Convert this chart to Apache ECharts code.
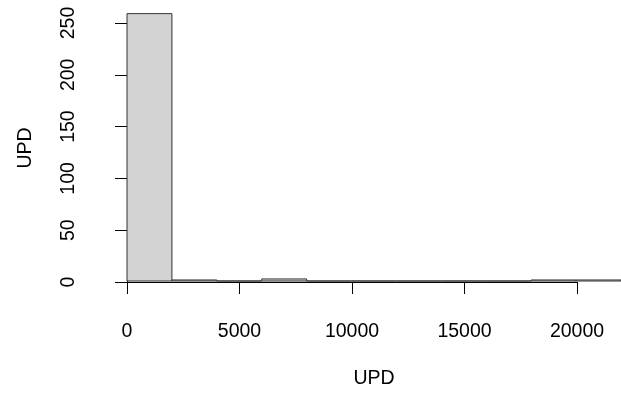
<!DOCTYPE html>
<html>
<head>
<meta charset="utf-8">
<script src="https://cdn.jsdelivr.net/npm/echarts@6/dist/echarts.min.js"></script>
<style>
  html, body { margin: 0; padding: 0; background: #fff; }
  #chart { width: 621px; height: 394px; }
</style>
</head>
<body>
<div id="chart"></div>
<script>
// Histogram of UPD: bin edges (width 2000) and counts per bin
const binStarts = [0, 2000, 4000, 6000, 8000, 10000, 12000, 14000, 16000, 18000, 20000];
const binWidth = 2000;
const counts = [259, 1, 0, 2, 0, 0, 0, 0, 0, 1, 1];
const xTicks = [0, 5000, 10000, 15000, 20000];
const yTicks = [0, 50, 100, 150, 200, 250];

const FONT = 'Liberation Sans, Arial, sans-serif';
const FS = 19.5;
const pxPerCount = 259 / 250;
const yZero = 282;
const yTopMax = 270;

const chart = echarts.init(document.getElementById('chart'), null, { renderer: 'canvas' });

const histData = binStarts.map((s, i) => [s, s + binWidth, counts[i]]);

chart.setOption({
  animation: false,
  backgroundColor: '#ffffff',
  grid: [
    // plotting area for the bars
    { left: 127, width: 495, top: yZero - yTopMax * pxPerCount, height: yTopMax * pxPerCount },
    // frame for the axes, spanning the tick range only
    { left: 127, width: 450, top: 23, height: 259 },
    // band used only to place the y-axis title
    { left: 127, width: 450, top: 14, height: 268 }
  ],
  xAxis: [
    {
      gridIndex: 0, type: 'value', min: 0, max: 22000,
      axisLine: { show: false }, axisTick: { show: false }, axisLabel: { show: false },
      splitLine: { show: false },
      name: 'UPD', nameLocation: 'middle', nameGap: 88,
      nameTextStyle: { color: '#000', fontFamily: FONT, fontSize: FS }
    },
    {
      gridIndex: 1, type: 'value', min: xTicks[0], max: xTicks[xTicks.length - 1], interval: 5000,
      position: 'bottom', offset: 10,
      axisLine: { show: true, lineStyle: { color: '#000', width: 1 } },
      axisTick: { show: true, length: 12, inside: false, lineStyle: { color: '#000' } },
      axisLabel: { show: true, color: '#000', fontFamily: FONT, fontSize: FS, margin: 30,
                   formatter: v => String(v) },
      splitLine: { show: false }
    },
    { gridIndex: 2, type: 'value', min: 0, max: 1, show: false }
  ],
  yAxis: [
    { gridIndex: 0, type: 'value', min: 0, max: yTopMax, show: false },
    {
      gridIndex: 1, type: 'value', min: yTicks[0], max: yTicks[yTicks.length - 1], interval: 50,
      position: 'left', offset: 20,
      axisLine: { show: true, lineStyle: { color: '#000', width: 1 } },
      axisTick: { show: true, length: 12, inside: false, lineStyle: { color: '#000' } },
      axisLabel: { show: true, color: '#000', fontFamily: FONT, fontSize: FS, rotate: 90, margin: 28,
                   formatter: v => String(v) },
      splitLine: { show: false }
    },
    {
      gridIndex: 2, type: 'value', min: 0, max: 1, position: 'left', offset: 20,
      axisLine: { show: false }, axisTick: { show: false }, axisLabel: { show: false },
      splitLine: { show: false },
      name: 'UPD', nameLocation: 'middle', nameGap: 71, nameRotate: 90,
      nameTextStyle: { color: '#000', fontFamily: FONT, fontSize: FS }
    }
  ],
  series: [
    {
      type: 'custom',
      xAxisIndex: 0,
      yAxisIndex: 0,
      clip: false,
      data: histData,
      encode: { x: [0, 1], y: 2 },
      renderItem: function (params, api) {
        const p0 = api.coord([api.value(0), api.value(2)]);
        const p1 = api.coord([api.value(1), 0]);
        return {
          type: 'rect',
          shape: { x: p0[0], y: p0[1], width: p1[0] - p0[0], height: p1[1] - p0[1] },
          style: { fill: '#d3d3d3', stroke: '#333', lineWidth: 1 }
        };
      }
    }
  ]
});
</script>
</body>
</html>
